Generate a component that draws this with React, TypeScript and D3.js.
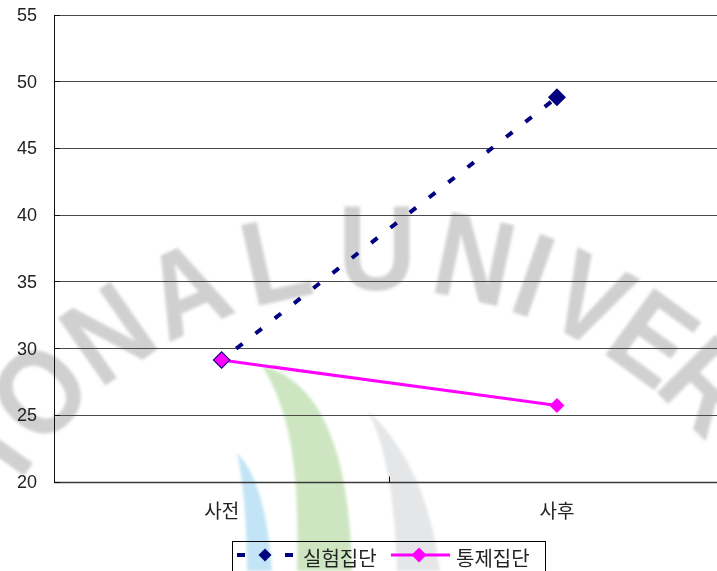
import React from 'react';
import * as d3 from 'd3';

// Chart data
const categories = ['사전', '사후'];
const experimentalValues = [29.1, 48.8];
const controlValues = [29.1, 25.7];
const seriesNames = ['실험집단', '통제집단'];
const yTicks = [20, 25, 30, 35, 40, 45, 50, 55];

// Background watermark lettering (letter, angle in degrees on the arc)
const watermarkLetters: [string, number][] = [
  ['I', -54.5], ['O', -46], ['N', -35], ['A', -24], ['L', -12.5],
  ['U', 0], ['N', 12], ['I', 19.5], ['V', 27], ['E', 36], ['R', 45],
];

const W = 717;
const H = 571;
const NAVY = '#000080';
const MAGENTA = '#ff00ff';
const NUM_FONT = '"Liberation Sans", Arial, sans-serif';
const KR_FONT = '"Noto Sans CJK KR", "Noto Sans", sans-serif';

const x = d3.scaleBand<string>().domain(categories).range([54, 724.6]);
const y = d3.scaleLinear().domain([20, 55]).range([481.5, 14.5]);
const cx = (c: string) => (x(c) as number) + x.bandwidth() / 2;

const diamond = (h: number) => `M0,${-h}L${h},0L0,${h}L${-h},0Z`;
const crisp = (v: number) => Math.round(v) + 0.5;

export default function App() {
  const line = d3
    .line<number>()
    .x((_, i) => cx(categories[i]))
    .y((d) => y(d));

  const left = 54;
  const right = 724.6;
  const bottom = crisp(y(20));

  return (
    <svg
      width={W}
      height={H}
      viewBox={`0 0 ${W} ${H}`}
      style={{ position: 'absolute', left: 0, top: 0, background: '#fff' }}
    >
      <defs>
        <filter id="soft" x="-20%" y="-20%" width="140%" height="140%">
          <feGaussianBlur stdDeviation="1.8" />
        </filter>
      </defs>
      <rect x={0} y={0} width={W} height={H} fill="#fff" />

      {/* faint emblem behind the plot */}
      <g filter="url(#soft)">
        <path
          d="M237,453 C255,470 268,510 272,571 L247,571 C247,520 243,480 237,453 Z"
          fill="#c2e4f6"
        />
        <path
          d="M262,366 C320,380 350,450 352,571 L297,571 C300,470 290,410 262,366 Z"
          fill="#cde6c1"
        />
        <path
          d="M367,410 C400,440 430,490 440,571 L397,571 C395,500 385,440 367,410 Z"
          fill="#e4e6e8"
        />
        <g transform="translate(377,718)">
          {watermarkLetters.map(([ch, a], i) => (
            <g key={i} transform={`rotate(${a}) translate(0,-471)`}>
              <text
                x={0}
                y={43}
                textAnchor="middle"
                fontFamily={NUM_FONT}
                fontWeight={700}
                fontSize={120}
                fill="#d0d0d0"
                transform="scale(0.9,1)"
              >
                {ch}
              </text>
            </g>
          ))}
        </g>
      </g>

      {/* horizontal gridlines */}
      {yTicks.slice(1).map((t) => (
        <line
          key={t}
          x1={left}
          x2={right}
          y1={crisp(y(t))}
          y2={crisp(y(t))}
          stroke="#4a4a4a"
          strokeWidth={1}
        />
      ))}

      {/* axes */}
      <line x1={left} x2={right} y1={bottom} y2={bottom} stroke="#3a3a3a" strokeWidth={1.4} />
      <line x1={crisp(left)} x2={crisp(left)} y1={crisp(y(55))} y2={bottom} stroke="#111" strokeWidth={1} />
      {yTicks.map((t) => (
        <line
          key={`yt${t}`}
          x1={left}
          x2={left + 6}
          y1={crisp(y(t))}
          y2={crisp(y(t))}
          stroke="#111"
          strokeWidth={1}
        />
      ))}
      {[x(categories[1]) as number].map((v) => (
        <line key="xt" x1={crisp(v)} x2={crisp(v)} y1={bottom} y2={bottom - 6} stroke="#111" strokeWidth={1} />
      ))}

      {/* y tick labels */}
      {yTicks.map((t) => (
        <text
          key={`yl${t}`}
          x={37}
          y={y(t)}
          dy="0.36em"
          textAnchor="end"
          fontFamily={NUM_FONT}
          fontSize={18}
          fill="#222"
        >
          {t}
        </text>
      ))}

      {/* category labels */}
      {categories.map((c) => (
        <text
          key={c}
          x={cx(c)}
          y={518}
          textAnchor="middle"
          fontFamily={KR_FONT}
          fontSize={19}
          fill="#222"
        >
          {c}
        </text>
      ))}

      {/* series lines */}
      <path
        d={line(experimentalValues) ?? ''}
        fill="none"
        stroke={NAVY}
        strokeWidth={4}
        strokeDasharray="8 16.5"
        strokeDashoffset={6}
      />
      <path d={line(controlValues) ?? ''} fill="none" stroke={MAGENTA} strokeWidth={3} />

      {/* markers */}
      {experimentalValues.map((v, i) => (
        <path
          key={`em${i}`}
          d={diamond(9)}
          transform={`translate(${cx(categories[i])},${y(v)})`}
          fill={NAVY}
        />
      ))}
      {controlValues.map((v, i) => (
        <path
          key={`cm${i}`}
          d={diamond(7.5)}
          transform={`translate(${cx(categories[i])},${y(v)})`}
          fill={MAGENTA}
        />
      ))}

      {/* legend */}
      <rect x={232.5} y={541.5} width={313} height={40} fill="none" stroke="#000" strokeWidth={1} />
      <line x1={237} x2={245} y1={555} y2={555} stroke={NAVY} strokeWidth={4} />
      <line x1={285} x2={293} y1={555} y2={555} stroke={NAVY} strokeWidth={4} />
      <path d={diamond(6.5)} transform="translate(265,555)" fill={NAVY} />
      <text x={303} y={566} fontFamily={KR_FONT} fontSize={20} fill="#222">
        {seriesNames[0]}
      </text>
      <line x1={391} x2={450} y1={555} y2={555} stroke={MAGENTA} strokeWidth={3} />
      <path d={diamond(7.5)} transform="translate(419,555)" fill={MAGENTA} />
      <text x={456} y={566} fontFamily={KR_FONT} fontSize={20} fill="#222">
        {seriesNames[1]}
      </text>
    </svg>
  );
}
